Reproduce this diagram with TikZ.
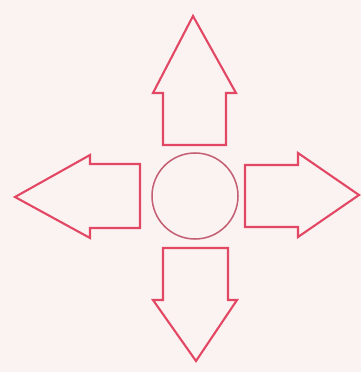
\documentclass[tikz,border=0pt]{standalone}
\usepackage{tikz}

\definecolor{paper}{RGB}{251,242,242}
\definecolor{inkred}{RGB}{226,72,100}
\definecolor{ringred}{RGB}{196,96,116}

\begin{document}
\begin{tikzpicture}[
    x=0.03cm, y=-0.03cm,
    blockarrow/.style={draw=inkred, line width=1.8pt, line join=miter},
    hubcircle/.style={circle, draw=ringred, line width=1.3pt, minimum size=2.58cm, inner sep=0pt}
]

% Background
\fill[paper] (0,0) rectangle (361,372);
\useasboundingbox (0,0) rectangle (361,372);

% Centre
\node[hubcircle] (hub) at (195,196) {};

% Arrows
\draw[blockarrow] (163,145) -- (163,93) -- (153,93) -- (193,16) -- (236,93) -- (226,93) -- (226,145) -- cycle;
\draw[blockarrow] (140,164) -- (90,164) -- (90,155) -- (15,197) -- (90,238) -- (90,228) -- (140,228) -- cycle;
\draw[blockarrow] (245,165) -- (298,165) -- (298,153) -- (359,195) -- (298,237) -- (298,227) -- (245,227) -- cycle;
\draw[blockarrow] (163,248) -- (228,248) -- (228,300) -- (237,300) -- (196,361) -- (153,300) -- (163,300) -- cycle;

\end{tikzpicture}
\end{document}
